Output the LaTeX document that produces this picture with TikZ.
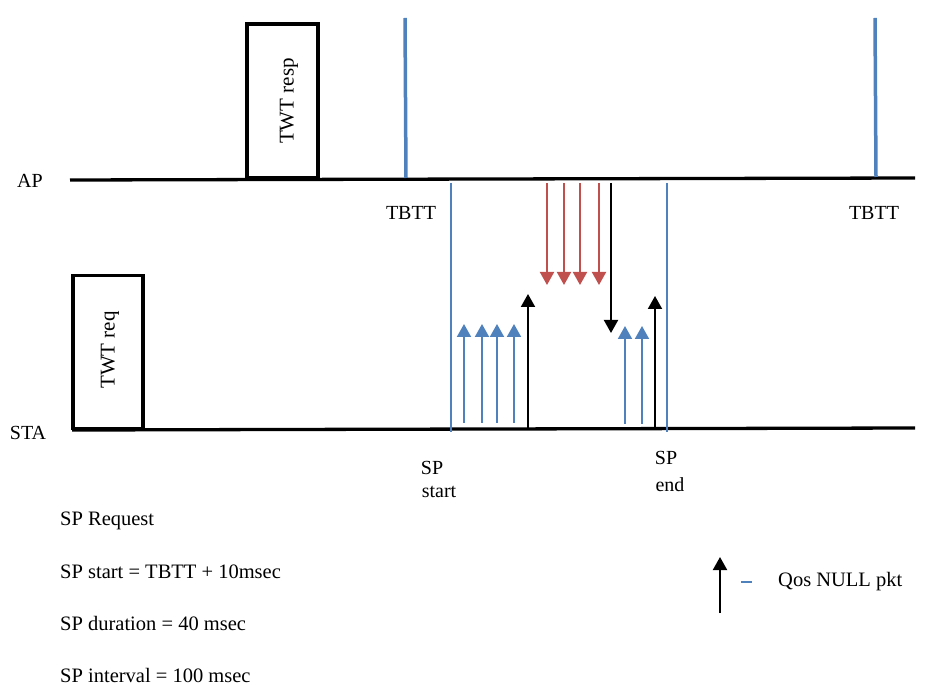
\documentclass[tikz,border=0pt]{standalone}
\usepackage{fontspec}
\setmainfont{Liberation Serif}
\usetikzlibrary{arrows.meta}
\definecolor{tblue}{RGB}{79,129,189}
\definecolor{tred}{RGB}{192,80,77}
\tikzset{
  axisline/.style={line width=3.3pt, black},
  tbttline/.style={line width=3.5pt, tblue},
  spline/.style={line width=1.8pt, tblue},
  frame/.style={draw, line width=3.3pt, inner sep=0pt},
  upblue/.style={line width=2pt, tblue, -{Triangle[width=14pt,length=13pt]}},
  upblack/.style={line width=2pt, black, -{Triangle[width=14pt,length=13pt]}},
  downred/.style={line width=2pt, tred, -{Triangle[width=14pt,length=13pt]}},
  lbl/.style={font=\fontsize{20}{22}\selectfont, inner sep=0pt},
  note/.style={font=\fontsize{20.5}{22}\selectfont, inner sep=0pt, anchor=west},
}
\begin{document}
\begin{tikzpicture}[x=1pt,y=-1pt]
\useasboundingbox (0,0) rectangle (940,692);
% AP timeline
\node[lbl] (aplbl) at (30,181) {AP};
\coordinate (apL) at (70,180);
\coordinate (apR) at (915,178);
\draw[axisline] (apL) -- (apR);
% TWT resp
\node[frame, minimum width=71pt, minimum height=154pt] (resp) at (282.5,101) {};
\node[lbl, rotate=90] (resptxt) at (289,101) {\fontsize{21}{22}\selectfont TWT resp};
% TBTT lines
\coordinate (t1top) at (405,18);
\coordinate (t1bot) at (406,178);
\draw[tbttline] (t1top) -- (t1bot);
\node[lbl] (tbtt1) at (411,213) {TBTT};
\coordinate (t2top) at (875,18);
\coordinate (t2bot) at (876,177);
\draw[tbttline] (t2top) -- (t2bot);
\node[lbl] (tbtt2) at (874,213) {TBTT};
% STA timeline
\node[lbl] (stalbl) at (28,433) {STA};
\coordinate (staL) at (72,430);
\coordinate (staR) at (915,428);
\draw[axisline] (staL) -- (staR);
% TWT req
\node[frame, minimum width=70pt, minimum height=153pt] (req) at (108,352) {};
\node[lbl, rotate=90] (reqtxt) at (110,350) {\fontsize{21}{22}\selectfont TWT req};
% SP boundaries
\coordinate (sps1) at (451,183); \coordinate (sps2) at (451,432);
\draw[spline] (sps1) -- (sps2);
\coordinate (spe1) at (667,183); \coordinate (spe2) at (667,432);
\draw[spline] (spe1) -- (spe2);
% uplink blue arrows
\foreach \x [count=\i] in {464,482,497,514}{
  \coordinate (ub\i) at (\x,423);
  \coordinate (ut\i) at (\x,324);
  \draw[upblue] (ub\i) -- (ut\i);
}
% black QoS null up
\coordinate (q1b) at (528,430); \coordinate (q1t) at (528,294);
\draw[upblack] (q1b) -- (q1t);
% red downlink arrows
\foreach \x [count=\i] in {547,564,580,599}{
  \coordinate (rb\i) at (\x,183);
  \coordinate (rt\i) at (\x,285);
  \draw[downred] (rb\i) -- (rt\i);
}
% black down
\coordinate (d1t) at (611,183); \coordinate (d1b) at (611,333);
\draw[upblack] (d1t) -- (d1b);
% second uplink blue arrows
\foreach \x [count=\i] in {625,642}{
  \coordinate (vb\i) at (\x,424);
  \coordinate (vt\i) at (\x,326);
  \draw[upblue] (vb\i) -- (vt\i);
}
\coordinate (q2b) at (655,430); \coordinate (q2t) at (655,296);
\draw[upblack] (q2b) -- (q2t);
% SP labels
\node[lbl] (sp1) at (432,468) {SP};
\node[lbl] (sp1b) at (439,492) {start};
\node[lbl] (sp2) at (666,458) {SP};
\node[lbl] (sp2b) at (670,485) {end};
% notes
\node[note] (n1) at (60,521) {SP Request};
\node[note] (n2) at (60,572) {SP start = TBTT + 10msec};
\node[note] (n3) at (60,623) {SP duration = 40 msec};
\node[note] (n4) at (60,675) {SP interval = 100 msec};
% legend
\coordinate (lgb) at (720,613); \coordinate (lgt) at (720,557);
\draw[upblack] (lgb) -- (lgt);
\coordinate (ld1) at (741,582); \coordinate (ld2) at (752,582);
\draw[line width=1.5pt, tblue] (ld1) -- (ld2);
\node[note] (lg) at (778,582) {Qos NULL pkt};
\end{tikzpicture}
\end{document}
